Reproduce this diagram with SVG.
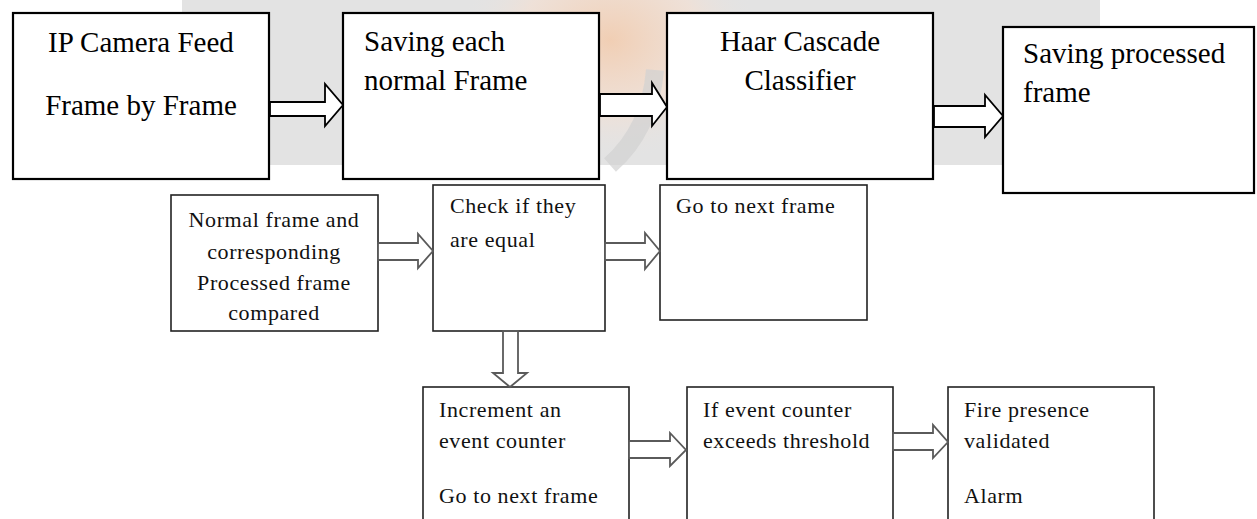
<svg xmlns="http://www.w3.org/2000/svg" width="1257" height="519" viewBox="0 0 1257 519">
<style>
.big{fill:#fff;stroke:#000;stroke-width:2.2}
.small{fill:#fff;stroke:#222;stroke-width:1.6}
.ta{font-family:"Liberation Serif","Times New Roman",serif;font-size:29px;fill:#000}
.tb{font-family:"Liberation Serif","Times New Roman",serif;font-size:22px;letter-spacing:0.6px;fill:#111}
.arT{fill:#fff;stroke:#000;stroke-width:1.8;stroke-linejoin:miter}
.arB{fill:#fff;stroke:#5a5a5a;stroke-width:1.8;stroke-linejoin:miter}
</style>
<defs>
<radialGradient id="peach" cx="0.5" cy="0.5" r="0.5">
<stop offset="0" stop-color="#f4c9a8" stop-opacity="0.8"/>
<stop offset="0.6" stop-color="#f6dfd0" stop-opacity="0.6"/>
<stop offset="1" stop-color="#e4e4e4" stop-opacity="0"/>
</radialGradient>
</defs>
<rect width="1257" height="519" fill="#fff"/>
<g id="watermark">
<rect x="182" y="0" width="918" height="165" fill="#e3e3e3"/>
<ellipse cx="610" cy="40" rx="150" ry="120" fill="url(#peach)"/>
<path d="M655,70 Q650,130 610,165" fill="none" stroke="#d2d2d2" stroke-width="18" stroke-opacity="0.7"/>
</g>
<g id="n1"><rect class="big" x="13" y="13" width="256" height="166"/>
<text class="ta" x="141" y="52" text-anchor="middle">IP Camera Feed</text>
<text class="ta" x="141" y="115" text-anchor="middle">Frame by Frame</text></g>
<g id="n2"><rect class="big" x="343" y="13" width="256" height="166"/>
<text class="ta" x="364" y="51">Saving each</text>
<text class="ta" x="364" y="90">normal Frame</text></g>
<g id="n3"><rect class="big" x="667" y="13" width="266" height="166"/>
<text class="ta" x="800" y="51" text-anchor="middle">Haar Cascade</text>
<text class="ta" x="800" y="90" text-anchor="middle">Classifier</text></g>
<g id="n4"><rect class="big" x="1003" y="27" width="251" height="166"/>
<text class="ta" x="1023" y="63">Saving processed</text>
<text class="ta" x="1023" y="102">frame</text></g>
<g id="n5"><rect class="small" x="171" y="195" width="207" height="136"/>
<text class="tb" x="274" y="227" text-anchor="middle">Normal frame and</text>
<text class="tb" x="274" y="259" text-anchor="middle">corresponding</text>
<text class="tb" x="274" y="290" text-anchor="middle">Processed frame</text>
<text class="tb" x="274" y="320" text-anchor="middle">compared</text></g>
<g id="n6"><rect class="small" x="433" y="185" width="172" height="146"/>
<text class="tb" x="450" y="213">Check if they</text>
<text class="tb" x="450" y="247">are equal</text></g>
<g id="n7"><rect class="small" x="660" y="185" width="207" height="135"/>
<text class="tb" x="676" y="213">Go to next frame</text></g>
<g id="n8"><rect class="small" x="423" y="387" width="206" height="150"/>
<text class="tb" x="439" y="417">Increment an</text>
<text class="tb" x="439" y="448">event counter</text>
<text class="tb" x="439" y="503">Go to next frame</text></g>
<g id="n9"><rect class="small" x="687" y="387" width="206" height="150"/>
<text class="tb" x="703" y="417">If event counter</text>
<text class="tb" x="703" y="448">exceeds threshold</text></g>
<g id="n10"><rect class="small" x="948" y="387" width="206" height="150"/>
<text class="tb" x="964" y="417">Fire presence</text>
<text class="tb" x="964" y="448">validated</text>
<text class="tb" x="964" y="503">Alarm</text></g>
<g id="connectors">
<polygon class="arT" points="270,102 325,102 325,84 343,105 325,126 325,116 270,116"/>
<polygon class="arT" points="600,94 652,94 652,83 667,107 652,126 652,116 600,116"/>
<polygon class="arT" points="934,106 985,106 985,95 1003,116 985,137 985,127 934,127"/>
<polygon class="arB" points="378,243 418,243 418,234 433,251 418,268 418,260 378,260"/>
<polygon class="arB" points="605,243 645,243 645,233 660,251 645,269 645,260 605,260"/>
<polygon class="arB" points="503,331 503,373 493,373 510,387 527,373 518,373 518,331"/>
<polygon class="arB" points="629,441 670,441 670,433 686,450 670,466 670,458 629,458"/>
<polygon class="arB" points="893,433 933,433 933,425 948,442 933,458 933,450 893,450"/>
</g>
</svg>
